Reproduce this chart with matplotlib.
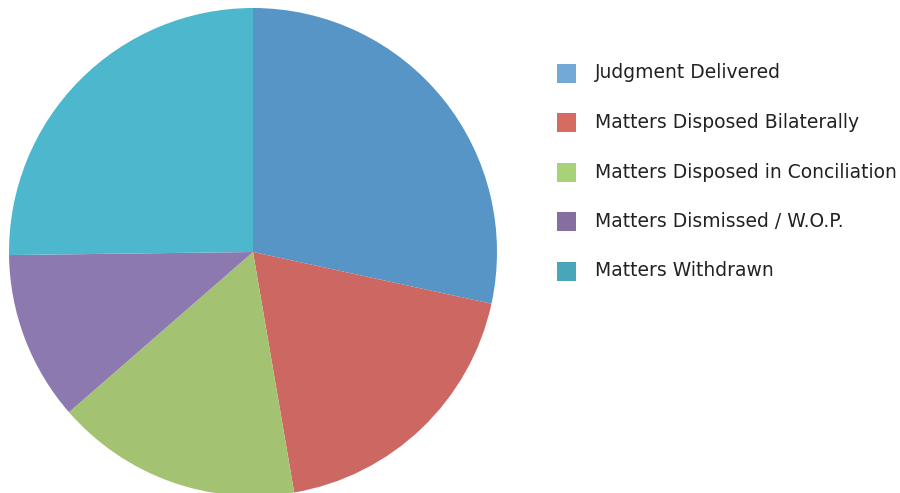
import matplotlib
matplotlib.use("Agg")
import matplotlib.pyplot as plt
from matplotlib.patches import Rectangle

categories = ["Judgment Delivered", "Matters Disposed Bilaterally",
              "Matters Disposed in Conciliation", "Matters Dismissed / W.O.P.",
              "Matters Withdrawn"]
values = [28.4, 18.9, 16.3, 11.2, 25.2]
pie_colors = ["#5795C7", "#CC6762", "#A4C372", "#8C79B0", "#4DB8CD"]
legend_colors = ["#71AAD4", "#D66B62", "#A8D277", "#876EA1", "#47A6B9"]

W, H = 900, 493
fig = plt.figure(figsize=(W / 100, H / 100), dpi=100)
fig.patch.set_facecolor("white")

cx, cy, r = 253, 252, 244
ax = fig.add_axes([(cx - r) / W, (H - cy - r) / H, 2 * r / W, 2 * r / H])
ax.pie(values, colors=pie_colors, startangle=90, counterclock=False,
       radius=1, wedgeprops=dict(linewidth=0))
ax.set_xlim(-1, 1)
ax.set_ylim(-1, 1)
ax.set_aspect("equal")
ax.axis("off")
for p in ax.patches:
    p.set_clip_on(False)

y0, dy = 73, 49.5
for i, (lab, col) in enumerate(zip(categories, legend_colors)):
    yc = y0 + i * dy
    fig.patches.append(Rectangle(((557) / W, (H - yc - 9.5) / H), 19 / W, 19 / H,
                                 transform=fig.transFigure, facecolor=col,
                                 edgecolor="none"))
    fig.text(595 / W, (H - yc) / H, lab, fontsize=13.5, color="#222222",
             family="DejaVu Sans", va="center", ha="left")

fig.savefig("out.png", dpi=100)
